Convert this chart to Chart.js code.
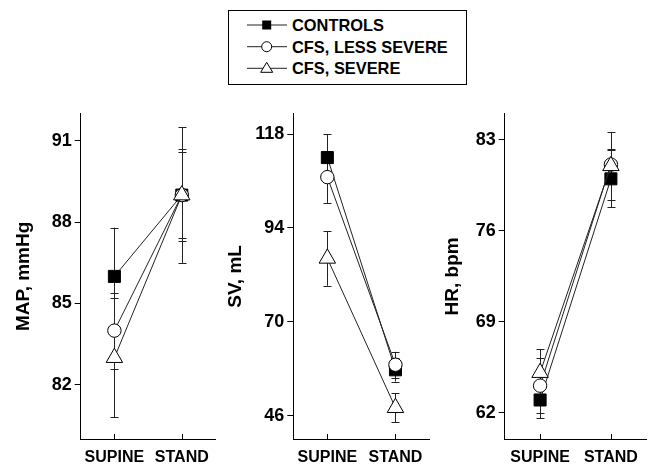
<!DOCTYPE html>
<html>
<head>
<meta charset="utf-8">
<script src="https://cdn.jsdelivr.net/npm/chart.js@4.4.0/dist/chart.umd.min.js"></script>
<style>
body { margin: 0; background: #fff; }
#wrap { position: relative; width: 657px; height: 464px; overflow: hidden; font-family: "Liberation Sans", Arial, sans-serif; }
canvas.panel { position: absolute; top: 100px; }
#legend { position: absolute; left: 228px; top: 10px; width: 237px; height: 73px; border: 1px solid #000; }
#legend svg { position: absolute; left: 0; top: 0; }
.lg { position: absolute; left: 63px; font-weight: bold; font-size: 16.4px; line-height: 16px; color: #000; white-space: nowrap; }
</style>
</head>
<body>
<div id="wrap">
  <div id="legend">
    <svg width="237" height="73">
      <g stroke="#222" stroke-width="1">
        <line x1="18" y1="14" x2="58" y2="14"/>
        <line x1="18" y1="35.7" x2="58" y2="35.7"/>
        <line x1="18" y1="57.3" x2="58" y2="57.3"/>
      </g>
      <rect x="33.2" y="9.5" width="9" height="9" fill="#000"/>
      <circle cx="37.7" cy="35.7" r="5" fill="#fff" stroke="#000" stroke-width="1"/>
      <polygon points="37.7,51.3 43.7,61.3 31.7,61.3" fill="#fff" stroke="#000" stroke-width="1"/>
    </svg>
    <span class="lg" style="top:6px">CONTROLS</span>
    <span class="lg" style="top:27.7px">CFS, LESS SEVERE</span>
    <span class="lg" style="top:49.3px">CFS, SEVERE</span>
  </div>
  <canvas id="mapChart" class="panel" width="226" height="364" style="left:0px"></canvas>
  <canvas id="svChart" class="panel" width="225" height="364" style="left:215px"></canvas>
  <canvas id="hrChart" class="panel" width="232" height="364" style="left:425px"></canvas>
</div>
<script>
// Kategori sumbu x
const positions = ['SUPINE', 'STAND'];

// MAP, mmHg
const mapTicks = [82, 85, 88, 91];
const mapControls = [86.0, 89.0];
const mapControlsSE = [1.8, 1.6];
const mapLess = [84.0, 89.0];
const mapLessSE = [1.4, 1.7];
const mapSevere = [83.0, 89.0];
const mapSevereSE = [2.2, 2.5];

// SV, mL
const svTicks = [46, 70, 94, 118];
const svControls = [112.0, 57.7];
const svControlsSE = [6.0, 3.0];
const svLess = [107.0, 59.0];
const svLessSE = [6.6, 3.3];
const svSevere = [86.2, 48.0];
const svSevereSE = [7.0, 3.7];

// HR, bpm
const hrTicks = [62, 69, 76, 83];
const hrControls = [63.0, 80.0];
const hrControlsSE = [1.4, 2.2];
const hrLess = [64.1, 81.1];
const hrLessSE = [2.1, 1.2];
const hrSevere = [65.1, 81.0];
const hrSevereSE = [1.8, 2.6];

const FONT = '"Liberation Sans", Arial, sans-serif';

// Error bars + tick ke dalam pada sumbu x
const errorBarPlugin = {
    id: 'errorBars',
    beforeDatasetsDraw(chart) {
        const ctx = chart.ctx;
        const xs = chart.scales.x;
        const ys = chart.scales.y;
        ctx.save();
        ctx.strokeStyle = '#222';
        ctx.lineWidth = 1;
        chart.data.datasets.forEach(ds => {
            ds.data.forEach((v, i) => {
                const se = ds.errors[i];
                const x = Math.round(xs.getPixelForValue(i)) + 0.5;
                const yTop = ys.getPixelForValue(v + se);
                const yBot = ys.getPixelForValue(v - se);
                ctx.beginPath();
                ctx.moveTo(x, yTop);
                ctx.lineTo(x, yBot);
                ctx.moveTo(x - 4, Math.round(yTop) + 0.5);
                ctx.lineTo(x + 4, Math.round(yTop) + 0.5);
                ctx.moveTo(x - 4, Math.round(yBot) + 0.5);
                ctx.lineTo(x + 4, Math.round(yBot) + 0.5);
                ctx.stroke();
            });
        });
        // tick kecil ke atas di sumbu x
        ctx.strokeStyle = '#000';
        positions.forEach((p, i) => {
            const x = Math.round(xs.getPixelForValue(i)) + 0.5;
            ctx.beginPath();
            ctx.moveTo(x, chart.chartArea.bottom);
            ctx.lineTo(x, chart.chartArea.bottom - 5);
            ctx.stroke();
        });
        ctx.restore();
    }
};

function makeDataset(label, values, errors, style, radius, fill, order) {
    return {
        label: label,
        data: values,
        errors: errors,
        borderColor: '#222',
        borderWidth: 1,
        pointStyle: style,
        pointRadius: radius,
        pointBackgroundColor: fill,
        pointBorderColor: '#000',
        pointBorderWidth: 1,
        order: order
    };
}

function createPanel(id, title, ticks, yMin, yMax, axisWidth, titlePad, padRight, series) {
    const ctx = document.getElementById(id);
    return new Chart(ctx, {
        type: 'line',
        data: {
            labels: positions,
            datasets: [
                makeDataset('CONTROLS', series[0], series[1], 'rect', 8.5, '#000', 3),
                makeDataset('CFS, LESS SEVERE', series[2], series[3], 'circle', 6.7, '#fff', 2),
                makeDataset('CFS, SEVERE', series[4], series[5], 'triangle', 9.5, '#fff', 1)
            ]
        },
        options: {
            responsive: false,
            animation: false,
            devicePixelRatio: 1,
            layout: { padding: { top: 13, right: padRight, left: 0, bottom: 0 } },
            plugins: {
                legend: { display: false },
                tooltip: { enabled: false }
            },
            scales: {
                x: {
                    type: 'category',
                    offset: true,
                    grid: { drawOnChartArea: false, drawTicks: false },
                    border: { display: true, color: '#000', width: 1 },
                    ticks: {
                        color: '#000',
                        font: { family: FONT, size: 16, weight: 'bold' },
                        padding: 9,
                        maxRotation: 0,
                        autoSkip: false
                    },
                    afterFit: function(scale) { scale.height = 25; }
                },
                y: {
                    min: yMin,
                    max: yMax,
                    afterBuildTicks: function(scale) {
                        scale.ticks = ticks.map(v => ({ value: v }));
                    },
                    grid: { drawOnChartArea: false, drawTicks: true, tickLength: 6, tickColor: '#000' },
                    border: { display: true, color: '#000', width: 1 },
                    ticks: {
                        color: '#000',
                        font: { family: FONT, size: 18, weight: 'bold' },
                        padding: 3
                    },
                    title: {
                        display: true,
                        text: title,
                        color: '#000',
                        font: { family: FONT, size: 19, weight: 'bold' },
                        padding: { top: titlePad, bottom: 0 }
                    },
                    afterFit: function(scale) { scale.width = axisWidth; }
                }
            }
        },
        plugins: [errorBarPlugin]
    });
}

window.onload = function() {
    createPanel('mapChart', 'MAP, mmHg', mapTicks, 80, 92, 80.7, 12.6, 4.3,
        [mapControls, mapControlsSE, mapLess, mapLessSE, mapSevere, mapSevereSE]);
    createPanel('svChart', 'SV, mL', svTicks, 40, 123.2, 78.3, 9.6, 5,
        [svControls, svControlsSE, svLess, svLessSE, svSevere, svSevereSE]);
    createPanel('hrChart', 'HR, bpm', hrTicks, 60, 85, 79.7, 16.6, 10.7,
        [hrControls, hrControlsSE, hrLess, hrLessSE, hrSevere, hrSevereSE]);
};
</script>
</body>
</html>
